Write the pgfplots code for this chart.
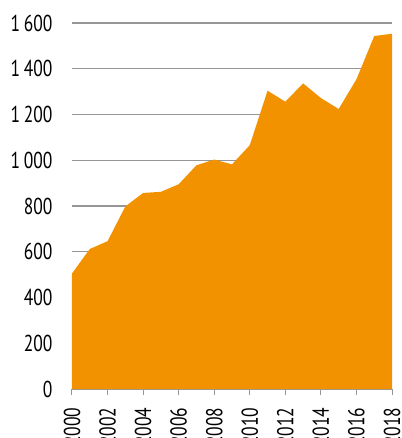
\documentclass[border=0pt]{standalone}
\usepackage{fontspec}
\setmainfont{PT Sans}[FakeStretch=0.76]
\usepackage{pgfplots}
\pgfplotsset{compat=1.18}
\definecolor{areaorange}{RGB}{243,146,0}
\definecolor{gridgray}{RGB}{150,150,150}

\begin{document}
\begin{tikzpicture}
\begin{axis}[
    scale only axis,
    width=320pt,
    height=366pt,
    xmin=2000, xmax=2018,
    ymin=0, ymax=1600,
    xtick={2000,2002,...,2018},
    ytick={0,200,...,1600},
    axis x line*=bottom,
    axis y line*=left,
    y axis line style={draw=none},
    x axis line style={draw=gridgray, line width=1pt},
    ytick style={draw=none},
    xtick style={draw=gridgray, line width=1pt},
    xtick align=outside,
    major tick length=6pt,
    ymajorgrids=true,
    grid style={gridgray, line width=1.3pt},
    font=\fontsize{23}{27}\selectfont,
    /pgf/number format/assume math mode=true,
    /pgf/number format/1000 sep={\,},
    xticklabel style={rotate=90, anchor=east, /pgf/number format/1000 sep={}},
    yticklabel style={xshift=-16pt},
    xticklabel shift=9pt,
    clip=false,
]
\addplot[draw=none, fill=areaorange] coordinates {
    (2000,505) (2001,612) (2002,646) (2003,798) (2004,857)
    (2005,862) (2006,895) (2007,978) (2008,1003) (2009,982)
    (2010,1066) (2011,1304) (2012,1256) (2013,1336) (2014,1272)
    (2015,1224) (2016,1354) (2017,1543) (2018,1553)
} \closedcycle;
\coordinate (o) at (rel axis cs:0,0);
\end{axis}
\pgfresetboundingbox
\path ([xshift=-72pt,yshift=-49pt]o) rectangle ([xshift=329pt,yshift=389pt]o);
\end{tikzpicture}
\end{document}
